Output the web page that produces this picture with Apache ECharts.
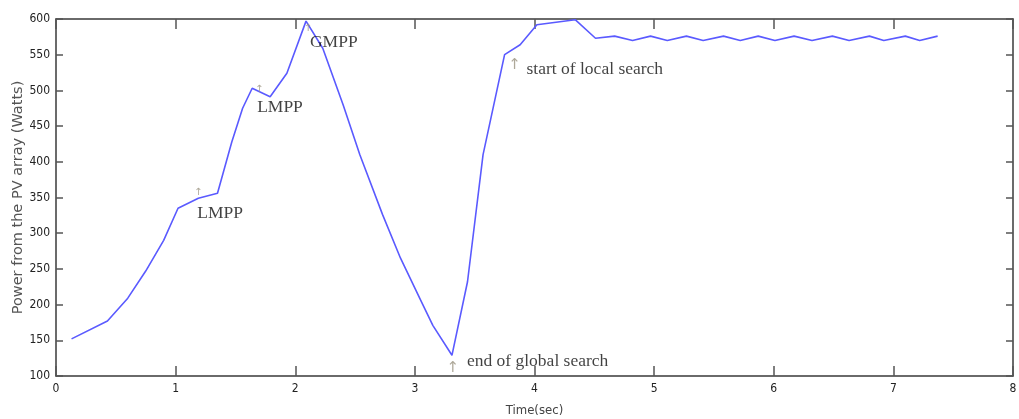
<!DOCTYPE html>
<html>
<head>
<meta charset="utf-8">
<script src="https://cdn.jsdelivr.net/npm/echarts@6/dist/echarts.min.js"></script>
<style>
html,body{margin:0;padding:0;background:#fff;}
#chart{width:1019px;height:419px;}
</style>
</head>
<body>
<div id="chart"></div>
<script>
// ---- data ----
const timeSec = [0.13, 0.43, 0.60, 0.75, 0.90, 1.02, 1.19, 1.35, 1.47, 1.56, 1.64, 1.79, 1.93, 2.09,
  2.23, 2.40, 2.54, 2.73, 2.88, 3.04, 3.15, 3.31, 3.44, 3.57, 3.75, 3.88, 4.02, 4.34, 4.51,
  4.67, 4.82, 4.97, 5.11, 5.27, 5.41, 5.58, 5.72, 5.87, 6.01, 6.17, 6.32, 6.49, 6.63, 6.80,
  6.92, 7.10, 7.22, 7.37];
const powerW = [152, 177, 209, 247, 290, 335, 349, 356, 428, 475, 503, 491, 524, 597,
  559, 480, 410, 326, 265, 209, 171, 129, 232, 410, 550, 564, 592, 599, 573,
  576, 570, 576, 570, 576, 570, 576, 570, 576, 570, 576, 570, 576, 570, 576,
  570, 576, 570, 576];

const xTicks = [0, 1, 2, 3, 4, 5, 6, 7, 8];
const yTicks = [100, 150, 200, 250, 300, 350, 400, 450, 500, 550, 600];

const annText = ['LMPP', 'LMPP', 'GMPP', 'end of global search', 'start of local search'];
const annTime = [1.19, 1.64, 2.09, 3.31, 3.75];
const annPower = [349, 503, 597, 129, 550];

// ---- styling (positions relative to anchor, in px) ----
const labelOffsets = [[-1, 15], [5, 19], [4, 21], [15, 6], [22, 15]];
const arrowOffsets = [[0, -11], [7, -4], [2, 2], [1, 5], [10, 3]];
const arrowSizes = [10, 10, 10, 15, 15];

const chart = echarts.init(document.getElementById('chart'));

const lineData = timeSec.map((t, i) => [t, powerW[i]]);

const narrow = '"DejaVu Sans Condensed", "Liberation Sans Narrow", "Liberation Sans", sans-serif';

function baseX(pos, showLabel) {
  return {
    type: 'value', position: pos, min: xTicks[0], max: xTicks[xTicks.length - 1], interval: 1,
    axisLine: { show: true, onZero: false, lineStyle: { color: '#3a3a3a', width: 1.5 } },
    axisTick: { show: true, inside: true, length: 10, lineStyle: { color: '#555', width: 1.5 } },
    splitLine: { show: false },
    axisLabel: { show: showLabel, margin: 7, fontSize: 12, fontFamily: narrow, color: '#222' }
  };
}
function baseY(pos, showLabel) {
  return {
    type: 'value', position: pos, min: yTicks[0], max: yTicks[yTicks.length - 1], interval: 50,
    axisLine: { show: true, onZero: false, lineStyle: { color: '#3a3a3a', width: 1.5 } },
    axisTick: { show: true, inside: true, length: 7, lineStyle: { color: '#555', width: 1.5 } },
    splitLine: { show: false },
    axisLabel: { show: showLabel, margin: 6, fontSize: 12, fontFamily: narrow, color: '#222' }
  };
}

const xBottom = Object.assign(baseX('bottom', true), {
  name: 'Time(sec)', nameLocation: 'middle', nameGap: 28, nameMoveOverlap: false,
  nameTextStyle: { fontSize: 13, fontFamily: narrow, color: '#444' }
});
const yLeft = Object.assign(baseY('left', true), {
  name: 'Power from the PV array (Watts)', nameLocation: 'middle', nameGap: 30, nameMoveOverlap: false,
  nameTextStyle: { fontSize: 14.5, fontFamily: '"DejaVu Sans", sans-serif', color: '#555' }
});

const annLabels = annText.map((txt, i) => ({
  value: [annTime[i], annPower[i]],
  label: {
    show: true, formatter: txt, position: labelOffsets[i], align: 'left', verticalAlign: 'middle',
    fontFamily: '"Liberation Serif", "Times New Roman", serif', fontSize: 17.5, color: '#111'
  }
}));
const annArrows = annText.map((txt, i) => ({
  value: [annTime[i], annPower[i]],
  label: {
    show: true, formatter: '\u2191', position: arrowOffsets[i], align: 'center', verticalAlign: 'top',
    fontFamily: '"DejaVu Sans", sans-serif', fontSize: arrowSizes[i], color: '#9a927f'
  }
}));

chart.setOption({
  animation: false,
  backgroundColor: '#fff',
  grid: { left: 56, right: 6, top: 19, bottom: 43, show: false, containLabel: false, outerBoundsMode: 'none' },
  xAxis: [xBottom, baseX('top', false)],
  yAxis: [yLeft, baseY('right', false)],
  series: [
    {
      type: 'line', data: lineData, xAxisIndex: 0, yAxisIndex: 0,
      showSymbol: false, symbol: 'none',
      lineStyle: { color: '#5a5aff', width: 1.6 }, z: 3
    },
    {
      type: 'scatter', data: annLabels, symbolSize: 0.1, xAxisIndex: 0, yAxisIndex: 0,
      itemStyle: { color: 'transparent' }, silent: true, z: 4
    },
    {
      type: 'scatter', data: annArrows, symbolSize: 0.1, xAxisIndex: 0, yAxisIndex: 0,
      itemStyle: { color: 'transparent' }, silent: true, z: 4
    }
  ]
});
</script>
</body>
</html>
